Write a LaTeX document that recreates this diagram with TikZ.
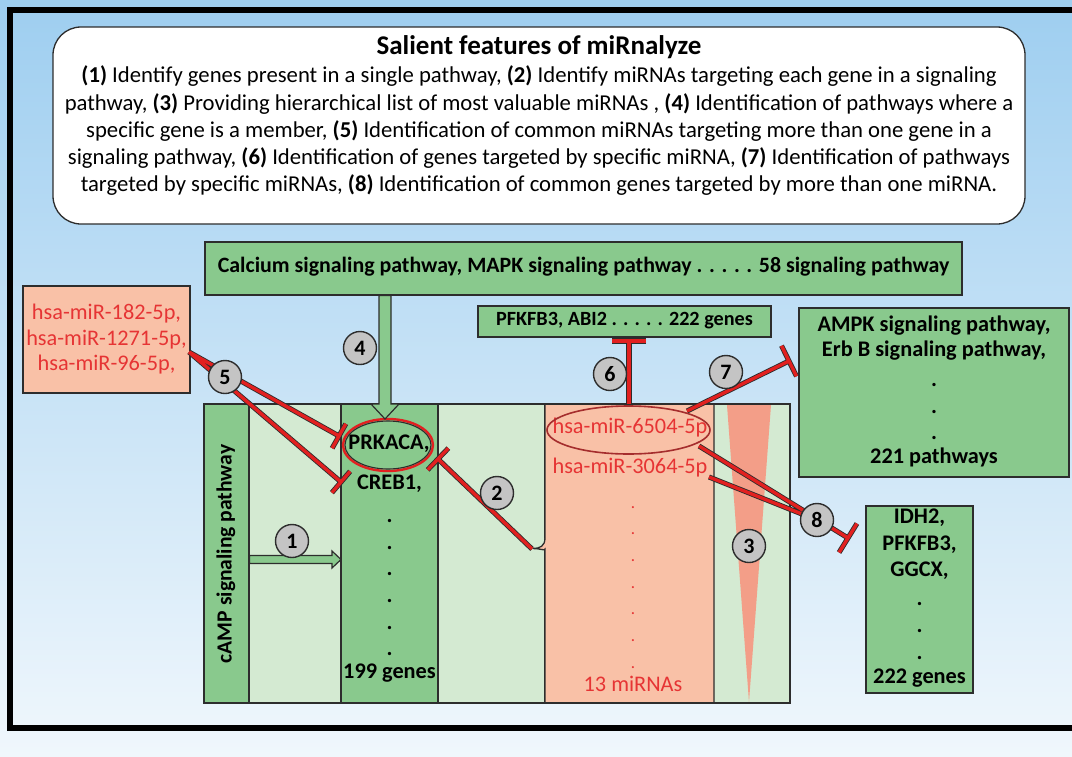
\documentclass[tikz,border=0pt]{standalone}
\usepackage{fontspec}
\setmainfont{Carlito}
\usetikzlibrary{calc}
\definecolor{bd}{RGB}{45,45,45}
\definecolor{gD}{RGB}{137,201,141}
\definecolor{gL}{RGB}{212,234,210}
\definecolor{salm}{RGB}{249,193,167}
\definecolor{tri}{RGB}{243,158,136}
\definecolor{rtx}{RGB}{230,52,52}
\definecolor{rln}{RGB}{226,32,32}
\definecolor{gc}{RGB}{196,196,196}
\definecolor{bgT}{RGB}{158,206,240}
\definecolor{bgB}{RGB}{240,247,252}
\definecolor{elr}{RGB}{165,45,45}
\newcommand\mytbar[3]{($(#1)!#3!90:(#2)$) -- ($(#1)!#3!-90:(#2)$)}
\begin{document}
\begin{tikzpicture}[x=1pt,y=-1pt,
 box/.style={draw=bd, line width=1.3pt},
 tx/.style={inner sep=0pt, text height=1.5ex, text depth=0pt, font=\fontsize{22.3}{26}\selectfont},
 btx/.style={tx, font=\fontsize{22.3}{26}\selectfont\bfseries},
 ftx/.style={tx, font=\fontsize{22.7}{27}\selectfont},
 rtxs/.style={tx, text=rtx},
 dotb/.style={inner sep=0pt, anchor=base, font=\fontsize{22.3}{26}\selectfont\bfseries},
 dotr/.style={inner sep=0pt, anchor=base, text=rtx, font=\fontsize{17}{20}\selectfont},
 inh/.style={draw=bd, double=rln, double distance=3.4pt, line width=0.85pt},
 num/.style={circle, draw=bd, line width=1.4pt, fill=gc, minimum size=33pt, inner sep=0pt, font=\fontsize{22}{24}\selectfont\bfseries},
 barr/.style={draw=bd, fill=gD, line width=1.2pt, line join=miter}
]
\useasboundingbox (0,0) rectangle (1072,756);
\shade[top color=bgT, bottom color=bgB] (0,0) rectangle (1072,756);
\draw[line width=6.5pt] (1080,10) -- (10,10) -- (10,728) -- (1080,728);

% feature box
\draw[box, fill=white, rounded corners=28pt] (53,27) rectangle (1025,224);
\node[tx, font=\fontsize{27}{30}\selectfont\bfseries] (title) at (539,51) {Salient features of miRnalyze};
\node[ftx] (tl1) at (539,79) {\textbf{(1)} Identify genes present in a single pathway, \textbf{(2)} Identify miRNAs targeting each gene in a signaling};
\node[ftx] (tl2) at (539,106.5) {pathway, \textbf{(3)} Providing hierarchical list of most valuable miRNAs , \textbf{(4)} Identification of pathways where a};
\node[ftx] (tl3) at (539,134) {specific gene is a member, \textbf{(5)} Identification of common miRNAs targeting more than one gene in a};
\node[ftx] (tl4) at (539,161) {signaling pathway, \textbf{(6)} Identification of genes targeted by specific miRNA, \textbf{(7)} Identification of pathways};
\node[ftx] (tl5) at (539,188) {targeted by specific miRNAs, \textbf{(8)} Identification of common genes targeted by more than one miRNA.};

% upper boxes
\node[box, fill=gD, btx, font=\fontsize{21.9}{26}\selectfont\bfseries, minimum width=757pt, minimum height=53pt] (cal) at (583.5,268.5) {Calcium signaling pathway, MAPK signaling pathway . . . . . 58 signaling pathway};
\node[box, fill=gD, btx, font=\fontsize{20.2}{24}\selectfont\bfseries, minimum width=293pt, minimum height=31pt] (pfk) at (624.5,321.5) {PFKFB3, ABI2 . . . . . 222 genes};
\node[box, fill=salm, minimum width=167pt, minimum height=107pt] (mleft) at (106.5,339.5) {};
\node[rtxs] (ml1) at (106.5,316) {hsa-miR-182-5p,};
\node[rtxs] (ml2) at (106.5,342) {hsa-miR-1271-5p,};
\node[rtxs] (ml3) at (106.5,367) {hsa-miR-96-5p,};
\node[box, fill=gD, minimum width=270pt, minimum height=169pt] (ampk) at (934,392.5) {};
\node[btx] (am1) at (934,328) {AMPK signaling pathway,};
\node[btx] (am2) at (934,353) {Erb B signaling pathway,};
\foreach \i/\y in {1/386,2/413,3/439} \node[dotb] (ad\i) at (934,\y) {.};
\node[btx] (am3) at (934,460) {221 pathways};
\node[box, fill=gD, minimum width=107pt, minimum height=187pt] (idh) at (919.5,599.5) {};
\node[btx] (id1) at (919.5,520) {IDH2,};
\node[btx] (id2) at (919.5,547) {PFKFB3,};
\node[btx] (id3) at (919.5,573) {GGCX,};
\foreach \i/\y in {1/605,2/632,3/659} \node[dotb] (idd\i) at (919.5,\y) {.};
\node[btx] (id4) at (919.5,680) {222 genes};

% main panel
\draw[box, fill=gD] (204,404) rectangle (249,703);
\draw[box, fill=gL] (249,404) rectangle (341,703);
\draw[box, fill=gD] (341,404) rectangle (438,703);
\draw[box, fill=gL] (438,404) rectangle (545,703);
\draw[box, fill=gL] (545,404) rectangle (790,703);
\fill[tri] (727,405) -- (771,405) -- (749,702) -- cycle;
\draw[box, fill=salm] (630,404) -- (714,404) -- (714,703) -- (545,703) [rounded corners=10pt] -- (545,559) [sharp corners] .. controls (545,551) and (540,548.5) .. (533,548.5) .. controls (540,548.5) and (545,546) .. (545,538) -- (545,404) [rounded corners=10pt] -- cycle;
\draw[box] (204,404) rectangle (790,703);

\node[btx, font=\fontsize{21.6}{26}\selectfont\bfseries, rotate=90] (camp) at (228,554) {cAMP signaling pathway};
\node[btx] (prk) at (389,446) {PRKACA,};
\node[btx] (creb) at (389.5,486) {CREB1,};
\foreach \i/\y in {1/522,2/549,3/575,4/602,5/629,6/655} \node[dotb] (gd\i) at (389.5,\y) {.};
\node[btx] (g199) at (389.5,675) {199 genes};

\node[rtxs] (mi1) at (630,430) {hsa-miR-6504-5p};
\node[rtxs] (mi2) at (630,470) {hsa-miR-3064-5p};
\foreach \i/\y in {1/508,2/534,3/561,4/588,5/614,6/641,7/668} \node[dotr] (md\i) at (633,\y) {.};
\node[rtxs] (m13) at (633,688) {13 miRNAs};

\draw[rln, line width=2.4pt] (388,445) ellipse [x radius=45, y radius=26];
\draw[bd, line width=1.1pt] (388,445) ellipse [x radius=43, y radius=24];
\draw[elr, line width=1.6pt] (628.5,430) ellipse [x radius=81.5, y radius=24];

% block arrows
\draw[barr] (379,295.6) -- (379,404) -- (371,404) -- (385,419) -- (399,404) -- (391,404) -- (391,295.6) -- cycle;
\draw[barr] (249.6,555.5) -- (332,555.5) -- (332,551) -- (341,559.5) -- (332,568) -- (332,563.5) -- (249.6,563.5) -- cycle;

% inhibition connectors
\coordinate (m5) at (189,352);
\coordinate (t5a) at (339,436);
\coordinate (t5b) at (341,482);
\coordinate (bt) at (532,549);
\coordinate (t2) at (438,459);
\coordinate (s6) at (629,404);
\coordinate (t6) at (629,341);
\coordinate (s7) at (687,411);
\coordinate (t7) at (789,361);
\coordinate (s8a) at (699,446);
\coordinate (s8b) at (709,477);
\coordinate (t8) at (848,538);
\coordinate (c8) at (817,520);

\draw[inh] (m5) -- (t5a) \mytbar{t5a}{m5}{14pt} (m5) -- (t5b) \mytbar{t5b}{m5}{14pt};
\draw[inh] (bt) -- (t2) \mytbar{t2}{bt}{15pt};
\draw[inh] (s6) -- (t6) \mytbar{t6}{s6}{17pt};
\draw[inh] (s7) -- (t7) \mytbar{t7}{s7}{17pt};
\draw[inh] (s8a) -- (t8) \mytbar{t8}{s8a}{17pt} (s8b) -- (c8);

% numbered circles
\node[num] (n1) at (292,541) {1};
\node[num] (n2) at (497,493) {2};
\node[num] (n3) at (749,546) {3};
\node[num] (n4) at (360,348) {4};
\node[num] (n5) at (225,377) {5};
\node[num] (n6) at (610,374) {6};
\node[num] (n7) at (726,372) {7};
\node[num] (n8) at (c8) {8};
\end{tikzpicture}
\end{document}
